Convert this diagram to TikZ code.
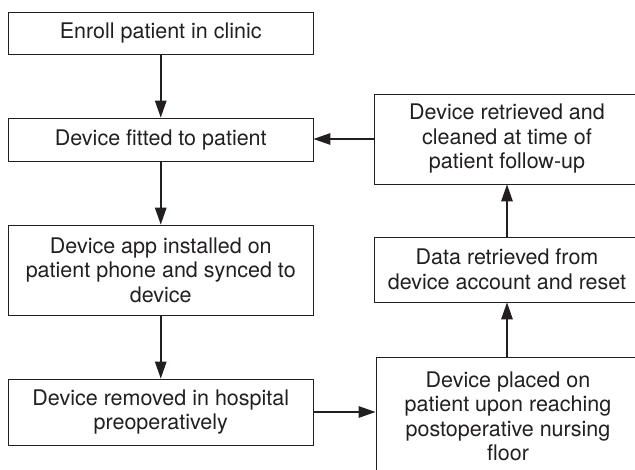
\documentclass[tikz,border=0pt]{standalone}
\usepackage{fontspec}
\setmainfont{TeX Gyre Heros}
\usetikzlibrary{arrows.meta}
\definecolor{ink}{HTML}{231F20}
\tikzset{
  box/.style={draw=ink, line width=0.9pt, rectangle, inner sep=0pt, align=center,
    text=ink, font=\fontsize{21.5}{24.5}\selectfont},
  arr/.style={draw=ink, line width=1.5pt, -{Triangle[length=17pt,width=11.5pt]}}
}
\begin{document}
\begin{tikzpicture}[x=1pt,y=-1pt]
\useasboundingbox (0,0) rectangle (635,469);
\clip (0,0) rectangle (635,469);
\fill[white] (0,0) rectangle (635,469);
\node[box, minimum width=304.5pt, minimum height=42pt] (b1) at (160.75,33) {Enroll patient in clinic};
\node[box, minimum width=304.5pt, minimum height=43pt] (b2) at (160.75,139.5) {Device fitted to patient};
\node[box, minimum width=304.5pt, minimum height=90pt] (b3) at (160.75,270) {Device app installed on\\patient phone and synced to\\device};
\node[box, minimum width=304.5pt, minimum height=66pt] (b4) at (160.75,412) {Device removed in hospital\\preoperatively};
\node[box, minimum width=266pt, minimum height=90pt] (b7) at (507,139) {Device retrieved and\\cleaned at time of\\patient follow-up};
\node[box, minimum width=266pt, minimum height=65pt] (b6) at (507,269.5) {Data retrieved from\\device account and reset};
\node[box, minimum width=264pt, minimum height=119pt] (b5) at (508,416.5) {Device placed on\\patient upon reaching\\postoperative nursing\\floor};
\draw[arr] (b1) -- (b2);
\draw[arr] (b2) -- (b3);
\draw[arr] (b3) -- (b4);
\draw[arr] (b4.east) -- (b4.east -| b5.west);
\draw[arr] (b5.north -| b6.south) -- (b6.south);
\draw[arr] (b6) -- (b7);
\draw[arr] (b7.west) -- (b7.west -| b2.east);
\end{tikzpicture}
\end{document}
